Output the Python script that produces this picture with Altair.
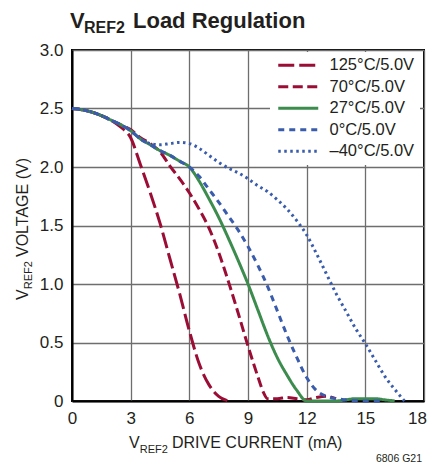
import altair as alt
import pandas as pd

# ---- data ----
series_names = ["125°C/5.0V", "70°C/5.0V", "27°C/5.0V", "0°C/5.0V", "–40°C/5.0V"]
series_colors = ["#9b0d35", "#9b0d35", "#3c8c4e", "#3a5cac", "#3a5cac"]
series_dashes = [[16, 5], [10, 4.5], [1, 0], [6, 5], [2.5, 3.5]]

x_125 = [0, 0.5, 1, 1.5, 2, 2.5, 3, 3.5, 4, 4.5, 5, 5.5, 6, 6.5, 7, 7.5, 8]
y_125 = [2.50, 2.49, 2.47, 2.44, 2.40, 2.34, 2.25, 2.02, 1.78, 1.52, 1.22, 0.92, 0.60, 0.32, 0.14, 0.04, 0.0]

x_70 = [0, 0.5, 1, 1.5, 2, 2.5, 3, 3.5, 4, 4.5, 5, 5.5, 6, 6.5, 7, 7.5, 8, 8.5, 9, 9.5, 9.8, 10,
        10.5, 11, 11.5, 12, 12.5, 13, 13.5]
y_70 = [2.50, 2.49, 2.47, 2.44, 2.40, 2.36, 2.32, 2.25, 2.20, 2.13, 2.01, 1.90, 1.78, 1.64, 1.48, 1.27, 1.02,
        0.75, 0.47, 0.21, 0.07, 0.02, 0.02, 0.03, 0.02, 0.01, 0.03, 0.04, 0.02]

x_27 = [0, 0.5, 1, 1.5, 2, 2.5, 3, 3.5, 4, 4.5, 5, 5.5, 6, 6.5, 7, 7.5, 8, 8.5, 9, 9.5, 10, 10.5, 11,
        11.5, 12, 12.5, 13, 13.5, 14, 14.5, 15, 15.5, 16, 16.5]
y_27 = [2.50, 2.49, 2.47, 2.44, 2.40, 2.36, 2.31, 2.24, 2.19, 2.14, 2.10, 2.05, 2.00, 1.88, 1.73, 1.57,
        1.39, 1.20, 1.00, 0.78, 0.56, 0.37, 0.22, 0.09, 0.00, 0.00, 0.00, 0.00, 0.01, 0.02, 0.02, 0.02,
        0.01, 0.00]

x_0 = [0, 0.5, 1, 1.5, 2, 2.5, 3, 3.5, 4, 4.5, 5, 5.5, 6, 6.5, 7, 7.5, 8, 8.5, 9, 9.5, 10, 10.5, 11,
       11.5, 12, 12.5, 13, 13.5, 14, 15, 16]
y_0 = [2.50, 2.49, 2.47, 2.44, 2.40, 2.36, 2.31, 2.24, 2.19, 2.14, 2.10, 2.05, 2.00, 1.92, 1.81, 1.70,
       1.58, 1.46, 1.32, 1.16, 0.98, 0.77, 0.56, 0.37, 0.20, 0.09, 0.04, 0.02, 0.01, 0.00, 0.00]

x_m40 = [0, 0.5, 1, 1.5, 2, 2.5, 3, 3.5, 4, 4.5, 5, 5.5, 6, 6.5, 7, 7.5, 8, 8.5, 9, 9.5, 10, 10.5, 11,
         11.5, 12, 12.5, 13, 13.5, 14, 14.5, 15, 15.5, 16, 16.5, 17]
y_m40 = [2.50, 2.49, 2.47, 2.44, 2.40, 2.36, 2.31, 2.24, 2.20, 2.19, 2.20, 2.21, 2.20, 2.16, 2.10, 2.04,
         1.99, 1.95, 1.90, 1.84, 1.79, 1.72, 1.64, 1.54, 1.42, 1.26, 1.09, 0.92, 0.77, 0.62, 0.49, 0.35,
         0.21, 0.10, 0.00]

x_ticks = [0, 3, 6, 9, 12, 15, 18]
y_ticks = [0, 0.5, 1.0, 1.5, 2.0, 2.5, 3.0]

series_x = [x_125, x_70, x_27, x_0, x_m40]
series_y = [y_125, y_70, y_27, y_0, y_m40]
rows = []
for name, xs, ys in zip(series_names, series_x, series_y):
    for i, (a, b) in enumerate(zip(xs, ys)):
        rows.append({"series": name, "current": a, "voltage": b, "order": i})
df = pd.DataFrame(rows)

FONT = "Liberation Sans"
INK = "#231f20"

lines = alt.Chart(df).mark_line(strokeWidth=3, interpolate="monotone").encode(
    x=alt.X("current:Q", scale=alt.Scale(domain=[0, 18], nice=False),
            axis=alt.Axis(values=x_ticks, title=None, grid=True, labelFontSize=17,
                          labelPadding=9, tickSize=0, domainWidth=2, domainColor="#000",
                          labelFlush=False,
                          labelOffset={"condition": {"test": "datum.value == 18", "value": -7},
                                       "value": 0})),
    y=alt.Y("voltage:Q", scale=alt.Scale(domain=[0, 3], nice=False),
            axis=alt.Axis(values=y_ticks, title=None, grid=True, labelFontSize=17,
                          labelPadding=9, tickSize=0, domainWidth=2, domainColor="#000",
                          labelFlush=False,
                          labelExpr="datum.value == 0 ? '0' : format(datum.value, '.1f')")),
    color=alt.Color("series:N", scale=alt.Scale(domain=series_names, range=series_colors),
                    legend=alt.Legend(title=None, orient="none", legendX=198, legendY=2,
                                      fillColor="white", padding=5, symbolType="M-1,0H7",
                                      symbolSize=100, symbolStrokeWidth=3, labelFontSize=16.5,
                                      labelOffset=38, rowPadding=4.5, labelLimit=200,
                                      labelColor=INK, labelFont=FONT)),
    strokeDash=alt.StrokeDash("series:N", scale=alt.Scale(domain=series_names, range=series_dashes),
                              legend=alt.Legend(title=None)),
    order="order:Q",
)

def txt(s, x, y, size, bold=False, angle=0, align="left"):
    return alt.Chart(pd.DataFrame({"t": [s]})).mark_text(
        font=FONT, fontSize=size, fontWeight="bold" if bold else "normal", color=INK,
        align=align, baseline="alphabetic", angle=angle,
    ).encode(x=alt.value(x), y=alt.value(y), text="t:N")

# title: V_REF2 Load Regulation
title_parts = [
    txt("V", -2, -22, 22, bold=True),
    txt("REF2", 12, -17, 16, bold=True),
    txt("Load Regulation", 61, -22, 22, bold=True),
]
# x axis title
xt_parts = [
    txt("V", 57, 398, 16),
    txt("REF2", 67.7, 403, 11),
    txt("DRIVE CURRENT (mA)", 100, 398, 16),
]
# y axis title (rotated)
yt_parts = [
    txt("V", -44, 250, 16, angle=270),
    txt("REF2", -40, 239.3, 11, angle=270),
    txt("VOLTAGE (V)", -44, 207, 16, angle=270),
]
note = txt("6806 G21", 350, 412, 10.5, align="right")

chart = alt.layer(lines, *title_parts, *xt_parts, *yt_parts, note).properties(
    width=352, height=351,
    autosize="none",
    padding={"left": 64, "top": 42, "right": 3, "bottom": 62},
).configure_view(
    stroke="#000", strokeWidth=2
).configure_axis(
    gridColor="#6e6e6e", gridWidth=1.3, labelColor=INK, labelFont=FONT
)

chart.save("out.html", embed_options={"renderer": "svg", "actions": False})
